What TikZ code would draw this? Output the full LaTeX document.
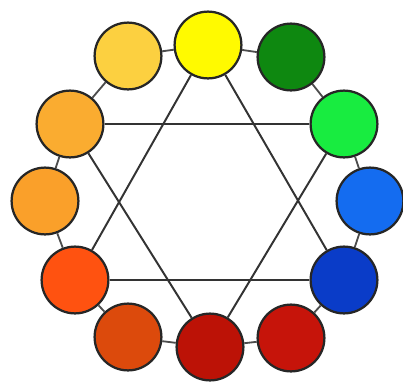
\documentclass[tikz,border=0pt]{standalone}
\usepackage{tikz}
\usetikzlibrary{positioning}
\definecolor{cYellow}{RGB}{255,250,0}
\definecolor{cDarkGreen}{RGB}{14,136,16}
\definecolor{cGreen}{RGB}{24,236,64}
\definecolor{cBlue}{RGB}{20,108,240}
\definecolor{cDarkBlue}{RGB}{10,60,200}
\definecolor{cDarkRed}{RGB}{198,20,10}
\definecolor{cCrimson}{RGB}{188,18,6}
\definecolor{cRust}{RGB}{220,74,12}
\definecolor{cRedOrange}{RGB}{255,82,16}
\definecolor{cOrange}{RGB}{250,160,42}
\definecolor{cLightOrange}{RGB}{250,172,48}
\definecolor{cGold}{RGB}{252,208,64}

\begin{document}
\begin{tikzpicture}[
  x=0.025cm, y=-0.025cm,
  % one disc per hue, all of a size
  hue/.style={circle, draw=black!85, line width=1.6pt, minimum size=1.67cm, inner sep=0pt},
  ring/.style={draw=black!70, line width=1.3pt},
  star/.style={draw=black!80, line width=1.4pt}
]
\useasboundingbox (0,0) rectangle (403,383);

\node[hue, fill=cYellow]      (yellow)    at (208,45)  {};
\node[hue, fill=cDarkGreen]   (dgreen)    at (291,57)  {};
\node[hue, fill=cGreen]       (green)     at (344,124) {};
\node[hue, fill=cBlue]        (blue)      at (370,201) {};
\node[hue, fill=cDarkBlue]    (dblue)     at (344,280) {};
\node[hue, fill=cDarkRed]     (dred)      at (291,338) {};
\node[hue, fill=cCrimson]     (crimson)   at (210,347) {};
\node[hue, fill=cRust]        (rust)      at (128,337) {};
\node[hue, fill=cRedOrange]   (redorange) at (75,280)  {};
\node[hue, fill=cOrange]      (orange)    at (45,201)  {};
\node[hue, fill=cLightOrange] (lorange)   at (70,124)  {};
\node[hue, fill=cGold]        (gold)      at (128,56)  {};

\foreach \a/\b in {yellow/dgreen, dgreen/green, green/blue, blue/dblue, dblue/dred,
                   dred/crimson, crimson/rust, rust/redorange, redorange/orange,
                   orange/lorange, lorange/gold, gold/yellow}
  \draw[ring] (\a) -- (\b);

\foreach \a/\b in {yellow/redorange, yellow/dblue, redorange/dblue,
                   crimson/lorange, crimson/green, lorange/green}
  \draw[star] (\a) -- (\b);
\end{tikzpicture}
\end{document}
